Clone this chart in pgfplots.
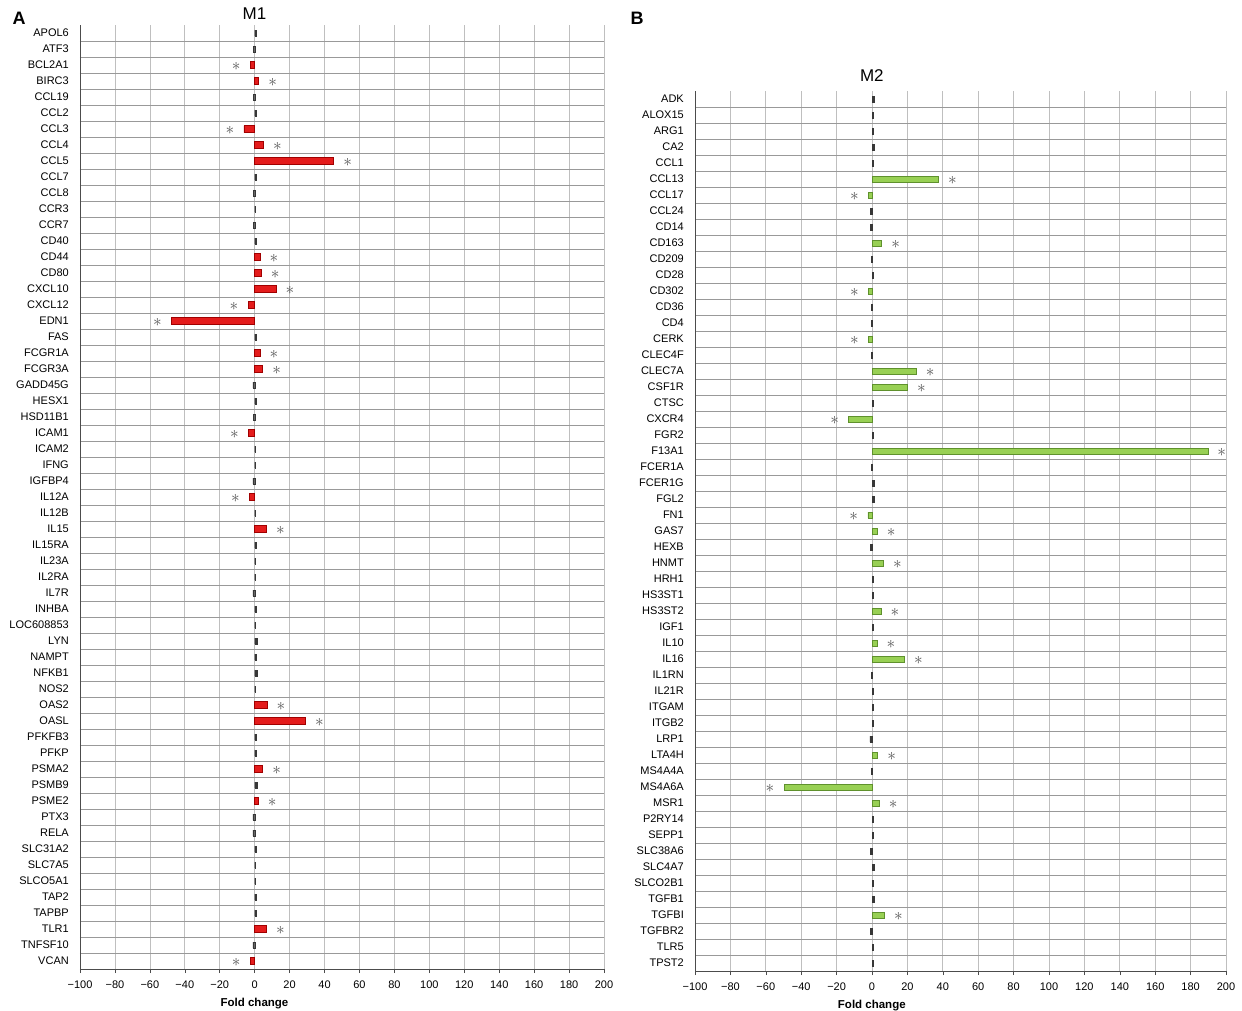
\documentclass[border=0pt]{standalone}
\usepackage{fontspec}
\setmainfont{Liberation Sans}
\usepackage{pgfplots}
\pgfplotsset{compat=1.18}

\definecolor{barred}{RGB}{228,28,28}
\definecolor{barredd}{RGB}{160,0,0}
\definecolor{bargreen}{RGB}{152,208,84}
\definecolor{bargreend}{RGB}{95,145,45}
\definecolor{nsbar}{RGB}{55,55,55}
\definecolor{astc}{RGB}{85,85,85}

\pgfplotsset{
  panel/.style={
    scale only axis, xbar, bar shift=0pt, clip=false,
    xmin=-100, xmax=200, y dir=reverse,
    xtick={-100,-80,...,200},
    xticklabels={−100,−80,−60,−40,−20,0,20,40,60,80,100,120,140,160,180,200},
    axis x line*=bottom, axis y line*=left,
    xmajorgrids, major x grid style={gray!50, line width=0.7pt},
    yminorgrids, minor y grid style={gray!80, line width=0.7pt},
    y tick style={draw=none}, minor y tick style={draw=none},
    x tick style={black!70, line width=0.6pt}, tick align=outside, major tick length=4pt,
    axis line style={black!70, line width=0.7pt},
    xticklabel style={font=\fontsize{11}{12}\selectfont, yshift=-4pt},
    yticklabel style={font=\fontsize{11}{12}\selectfont, inner sep=1pt, xshift=-6pt},
    xlabel={\bfseries Fold change},
    xlabel style={at={(ticklabel cs:0.333)}, anchor=near ticklabel, font=\fontsize{11.5}{13}\selectfont, inner sep=1pt, yshift=-5pt},
    title style={at={(0.333,1)}, anchor=south, font=\fontsize{17}{19}\selectfont},
  },
  sigpos/.style={nodes near coords={$\ast$}, every node near coord/.append style={anchor=center, xshift=14pt, yshift=-1pt, text=astc, font=\fontsize{17}{17}\selectfont}},
  signeg/.style={nodes near coords={$\ast$}, every node near coord/.append style={anchor=center, xshift=-14pt, yshift=-1pt, text=astc, font=\fontsize{17}{17}\selectfont}},
  redbar/.style={fill=barred, draw=barredd, line width=0.5pt, bar width=7pt},
  greenbar/.style={fill=bargreen, draw=bargreend, line width=0.5pt, bar width=6pt},
}

\begin{document}
\begin{tikzpicture}
\path[use as bounding box, fill=white] (0,0) rectangle (1242pt,1011pt);
\node[font=\fontsize{18}{20}\selectfont\bfseries] at (19pt,993pt) {A};
\node[font=\fontsize{18}{20}\selectfont\bfseries] at (637pt,993pt) {B};

% ---------------- Panel A: M1 ----------------
\begin{axis}[panel,
  at={(80pt,42pt)}, anchor=south west, width=524pt, height=944pt,
  title={M1}, title style={yshift=-4pt},
  ymin=-0.5, ymax=58.5,
  ytick={0,...,58}, minor ytick={0.5,1.5,...,57.5},
  yticklabels={APOL6,ATF3,BCL2A1,BIRC3,CCL19,CCL2,CCL3,CCL4,CCL5,CCL7,CCL8,CCR3,CCR7,CD40,CD44,CD80,CXCL10,CXCL12,EDN1,FAS,FCGR1A,FCGR3A,GADD45G,HESX1,HSD11B1,ICAM1,ICAM2,IFNG,IGFBP4,IL12A,IL12B,IL15,IL15RA,IL23A,IL2RA,IL7R,INHBA,LOC608853,LYN,NAMPT,NFKB1,NOS2,OAS2,OASL,PFKFB3,PFKP,PSMA2,PSMB9,PSME2,PTX3,RELA,SLC31A2,SLC7A5,SLCO5A1,TAP2,TAPBP,TLR1,TNFSF10,VCAN},
]
% non-significant
\addplot[fill=nsbar, draw=nsbar, line width=0.3pt, bar width=6pt] coordinates {
(0.8,0) (-0.8,1) (-0.8,4) (1.0,5) (0.8,9) (-0.8,10) (0.5,11) (-0.8,12) (0.8,13)
(0.8,19) (-1.0,22) (0.8,23) (-0.8,24) (0.5,26) (0.5,27) (-1.0,28) (0.5,30)
(1.0,32) (0.5,33) (0.5,34) (-1.0,35) (1.0,36) (0.5,37) (1.5,38) (0.8,39) (1.5,40) (0.5,41)
(0.8,44) (1.0,45) (1.5,47) (-1.0,49) (-1.0,50) (0.8,51) (0.5,52) (0.5,53) (0.8,54) (0.8,55) (-1.0,57)
};
% significant, up
\addplot[redbar, sigpos] coordinates {
(2.3,3) (5.0,7) (45.2,8) (3.0,14) (3.8,15) (12.2,16) (3.0,20) (4.6,21) (6.7,31)
(7.0,42) (29.0,43) (4.6,46) (2.0,48) (6.7,56)
};
% significant, down
\addplot[redbar, signeg] coordinates {
(-2.5,2) (-6.2,6) (-3.8,17) (-47.7,18) (-3.6,25) (-3.0,29) (-2.5,58)
};
\end{axis}

% ---------------- Panel B: M2 ----------------
\begin{axis}[panel,
  at={(695pt,40pt)}, anchor=south west, width=531pt, height=880pt,
  title={M2}, title style={yshift=0pt},
  ymin=-0.5, ymax=54.5,
  ytick={0,...,54}, minor ytick={0.5,1.5,...,53.5},
  yticklabels={ADK,ALOX15,ARG1,CA2,CCL1,CCL13,CCL17,CCL24,CD14,CD163,CD209,CD28,CD302,CD36,CD4,CERK,CLEC4F,CLEC7A,CSF1R,CTSC,CXCR4,FGR2,F13A1,FCER1A,FCER1G,FGL2,FN1,GAS7,HEXB,HNMT,HRH1,HS3ST1,HS3ST2,IGF1,IL10,IL16,IL1RN,IL21R,ITGAM,ITGB2,LRP1,LTA4H,MS4A4A,MS4A6A,MSR1,P2RY14,SEPP1,SLC38A6,SLC4A7,SLCO2B1,TGFB1,TGFBI,TGFBR2,TLR5,TPST2},
]
\addplot[fill=nsbar, draw=nsbar, line width=0.3pt, bar width=6pt] coordinates {
(1.0,0) (0.8,1) (0.8,2) (1.2,3) (0.8,4) (-0.8,7) (-0.8,8) (-0.5,10) (0.8,11)
(-0.5,13) (-0.5,14) (-0.5,16) (0.8,19) (0.8,21) (-0.5,23) (1.2,24) (1.2,25)
(-0.8,28) (0.8,30) (0.8,31) (0.8,33) (-0.5,36) (0.8,37) (0.8,38) (0.8,39) (-1.2,40)
(-0.5,42) (0.8,45) (0.8,46) (-0.8,47) (1.2,48) (0.8,49) (1.2,50) (-0.8,52) (0.8,53) (0.8,54)
};
\addplot[greenbar, sigpos] coordinates {
(37.5,5) (5.5,9) (24.9,17) (20.0,18) (189.7,22) (3.0,27) (6.4,29) (5.0,32)
(2.8,34) (18.3,35) (3.2,41) (4.1,44) (7.0,51)
};
\addplot[greenbar, signeg] coordinates {
(-2.0,6) (-2.0,12) (-2.0,15) (-13.2,20) (-2.4,26) (-49.7,43)
};
\end{axis}
\end{tikzpicture}
\end{document}
